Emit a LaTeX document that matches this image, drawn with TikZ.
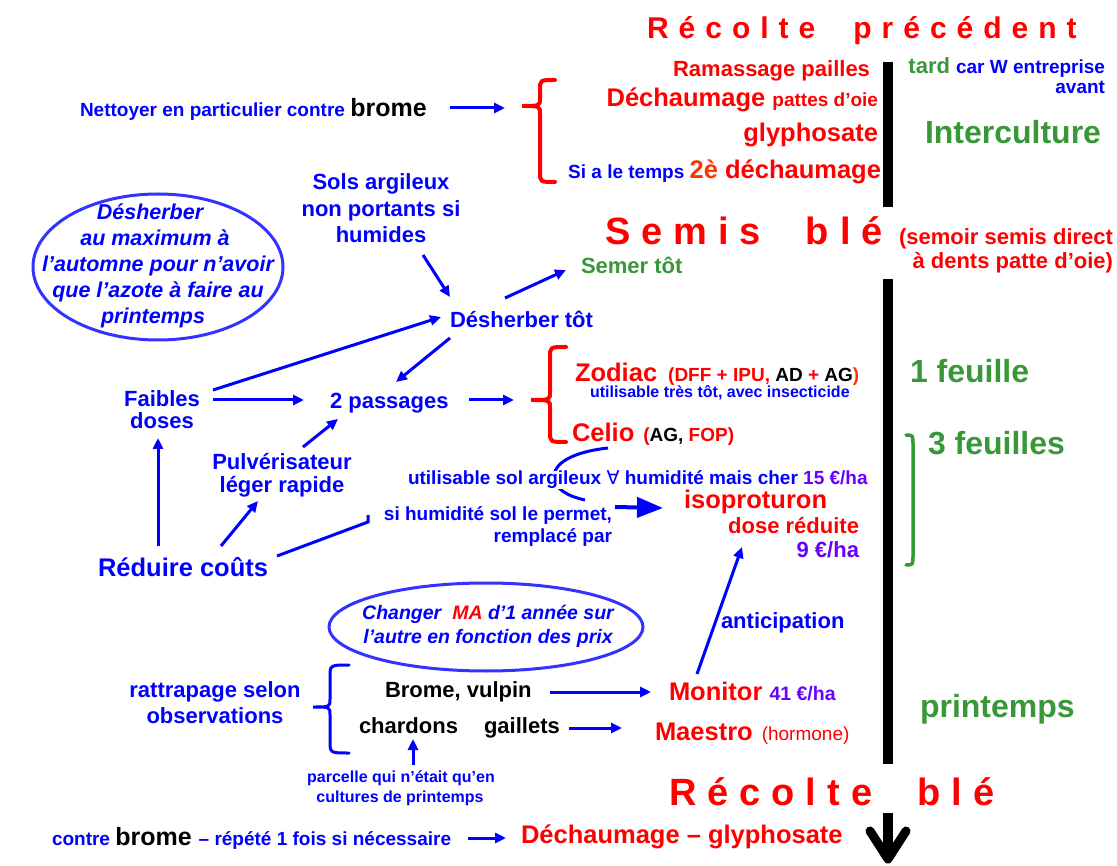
\documentclass[tikz,border=0pt]{standalone}
\usepackage{fontspec}
\setmainfont{Liberation Sans}
\newfontfamily\dejavu{DejaVu Sans}
\usetikzlibrary{arrows.meta}
\definecolor{cb}{RGB}{0,0,255}
\definecolor{cr}{RGB}{255,0,0}
\definecolor{cg}{RGB}{56,152,56}
\definecolor{cp}{RGB}{102,0,255}
\definecolor{ce}{RGB}{51,51,255}
\definecolor{co}{RGB}{255,51,0}
\newcommand\fs[1]{\fontsize{#1}{#1}\selectfont}
\def\lsp{10pt}
\def\spc#1{\spcA#1\relax}
\def\spcA#1{\ifx\relax#1\else#1\hskip\lsp\expandafter\spcA\fi}
\begin{document}
\begin{tikzpicture}[x=1pt,y=-1pt,
  every node/.style={inner sep=0pt,outer sep=0pt,font=\bfseries},
  arr/.style={draw=cb,line width=3pt,-{Triangle[length=11pt,width=10pt]}},
  bigarr/.style={draw=cb,line width=4pt,-{Triangle[length=26pt,width=20pt]}},
  plain/.style={draw=cb,line width=3pt},
  bar/.style={draw=black,line width=10pt},
  oval/.style={draw=ce,line width=3pt},
  redbrace/.style={draw=cr,line width=4pt,line cap=round},
  bluebrace/.style={draw=cb,line width=3pt,line cap=round},
  greenbrace/.style={draw=cg,line width=3.5pt,line cap=round},
  it/.style={font=\bfseries\itshape}]
\useasboundingbox (0,0) rectangle (1117,866);

% ---------- timeline bars ----------
\draw[bar] (888,62) -- (888,207);
\draw[bar] (888,279) -- (888,764);
\draw[bar] (888,813) -- (888,858);
\draw[draw=black,line width=9pt,line cap=round,line join=round] (870,831) -- (888,859) -- (906,831);

% ---------- headings ----------
\node[anchor=base west,text=cr] (rprec) at (647,39) {\fs{30}\def\lsp{10pt}\spc{Récolte}\hskip 28pt\spc{précédent}};
\node[anchor=base west,text=cr] (semis) at (605,245) {\fs{38}\def\lsp{11pt}\spc{Semis}\hskip 34pt\spc{blé}};
\node[anchor=base west,text=cr] (rble) at (669,805) {\fs{38}\def\lsp{11pt}\spc{Récolte}\hskip 34pt\spc{blé}};

% ---------- top block ----------
\node[anchor=base west] (nett) at (80,117) {\fs{19}\textcolor{cb}{Nettoyer en particulier contre} \textcolor{black}{\fs{25}brome}};
\node[anchor=base east,text=cr] (ram) at (870,77) {\fs{22}Ramassage pailles};
\node[anchor=base east,text=cr] (dech) at (878,107) {\fs{25.5}Déchaumage \fs{19}pattes d’oie};
\node[anchor=base east,text=cr] (glyph) at (878,142) {\fs{25.5}glyphosate};
\node[anchor=base east] (dech2) at (881,179) {\fs{19}\textcolor{cb}{Si a le temps} \fs{25.5}\textcolor{co}{2è} \textcolor{cr}{déchaumage}};
\node[anchor=base east] (tard) at (1105,74) {\fs{22}\textcolor{cg}{tard} \fs{19}\textcolor{cb}{car W entreprise}};
\node[anchor=base east,text=cb] (avant) at (1105,94) {\fs{19}avant};
\node[anchor=base west,text=cg] (inter) at (925,144) {\fs{32}Interculture};

\draw[redbrace] (555,80) .. controls (540,80) .. (540,90) -- (540,98) .. controls (540,106) .. (522,106) .. controls (540,106) .. (540,114) -- (540,172) .. controls (540,182) .. (555,182);
\coordinate (b1tip) at (505,108);
\coordinate (nettE) at (450,108);
\draw[arr] (nettE) -- (b1tip);

% ---------- semis ----------
\node[anchor=base east,text=cr] (semoir1) at (1113,245) {\fs{22}(semoir semis direct};
\node[anchor=base east,text=cr] (semoir2) at (1113,269) {\fs{22}à dents patte d’oie)};
\node[anchor=base west,text=cg] (semer) at (581,274) {\fs{22}Semer tôt};

% ---------- ellipse 1 ----------
\draw[oval] (158,267) ellipse [x radius=125, y radius=73];
\node[anchor=base,text=cb,it] (e1a) at (150,220) {\fs{21.5}Désherber};
\node[anchor=base,text=cb,it] (e1b) at (155,246) {\fs{21.5}au maximum à};
\node[anchor=base,text=cb,it] (e1c) at (158,272) {\fs{21.5}l’automne pour n’avoir};
\node[anchor=base,text=cb,it] (e1d) at (158,298) {\fs{21.5}que l’azote à faire au};
\node[anchor=base,text=cb,it] (e1e) at (153,324) {\fs{21.5}printemps};

% ---------- centre left ----------
\node[anchor=base,text=cb] (sols1) at (381,190) {\fs{22}Sols argileux};
\node[anchor=base,text=cb] (sols2) at (381,217) {\fs{22}non portants si};
\node[anchor=base,text=cb] (sols3) at (381,243) {\fs{22}humides};
\node[anchor=base west,text=cb] (desh) at (450,328) {\fs{22}Désherber tôt};
\node[anchor=base,text=cb] (faib1) at (162,407) {\fs{22}Faibles};
\node[anchor=base,text=cb] (faib2) at (162,429) {\fs{22}doses};
\node[anchor=base west,text=cb] (pass) at (330,409) {\fs{22}2 passages};
\node[anchor=base,text=cb] (pulv1) at (282,470) {\fs{22}Pulvérisateur};
\node[anchor=base,text=cb] (pulv2) at (282,493) {\fs{22}léger rapide};
\node[anchor=base west,text=cb] (red) at (98,576) {\fs{25.5}Réduire coûts};

\coordinate (solsS) at (423,255);
\coordinate (deshN) at (450,297);
\coordinate (deshNE) at (505,298);
\coordinate (semerW) at (566,270);
\coordinate (faibNE) at (213,390);
\coordinate (deshW) at (441,317);
\coordinate (deshSW) at (450,338);
\coordinate (passN) at (396,382);
\coordinate (faibE) at (213,400);
\coordinate (passW) at (304,400);
\coordinate (passE) at (469,400);
\coordinate (b2tip) at (514,400);
\coordinate (pulvNE) at (303,447);
\coordinate (passSW) at (338,419);
\coordinate (redN) at (158,546);
\coordinate (faibS) at (158,438);
\coordinate (redNE) at (221,546);
\coordinate (pulvS) at (258,501);
\coordinate (redE) at (277,556);
\coordinate (humW) at (368,522);
\coordinate (humT) at (368,515);

\draw[arr] (solsS) -- (deshN);
\draw[arr] (deshNE) -- (semerW);
\draw[arr] (faibNE) -- (deshW);
\draw[arr] (deshSW) -- (passN);
\draw[arr] (faibE) -- (passW);
\draw[arr] (passE) -- (b2tip);
\draw[arr] (pulvNE) -- (passSW);
\draw[arr] (redN) -- (faibS);
\draw[arr] (redNE) -- (pulvS);
\draw[plain] (redE) -- (humW) -- (humT);

% ---------- herbicides ----------
\draw[redbrace] (566,347) .. controls (550,347) .. (550,357) -- (550,392) .. controls (550,400) .. (531,400) .. controls (550,400) .. (550,408) -- (550,432) .. controls (550,442) .. (566,442);
\node[anchor=base west] (zod) at (575,382) {\fs{25.5}\textcolor{cr}{Zodiac}\hspace{11pt}\fs{19}\textcolor{cr}{(DFF + IPU,} \textcolor{black}{AD} \textcolor{cr}{+} \textcolor{black}{AG}\textcolor{co}{)}};
\node[anchor=base west,text=cb] (zodu) at (590,398) {\fs{16}utilisable très tôt, avec insecticide};
\node[anchor=base west] (celio) at (572,442) {\fs{25.5}\textcolor{cr}{Celio}\hspace{9pt}\fs{19}\textcolor{cr}{(}\textcolor{black}{AG,} \textcolor{cr}{FOP)}};
\node[anchor=base west,text=cg] (f1) at (910,383) {\fs{32}1 feuille};
\node[anchor=base west,text=cg] (f3) at (928,455) {\fs{32}3 feuilles};
\draw[greenbrace] (906,435) .. controls (913,435) .. (913,445) -- (913,555) .. controls (913,565) .. (906,565);

\coordinate (celioS) at (608,448);
\coordinate (curveE) at (585,500);
\draw[plain] (celioS) .. controls (580,451) and (555,460) .. (554,476) .. controls (553,489) and (570,497) .. (curveE);
\node[anchor=base west,fill=white] (util) at (408,485) {\fs{19}\textcolor{cb}{utilisable sol argileux {\dejavu\mdseries ∀} humidité mais cher} \textcolor{cp}{15 €/ha}};
\node[anchor=base east,text=cb] (hum1) at (612,520) {\fs{19}si humidité sol le permet,};
\node[anchor=base east,text=cb] (hum2) at (612,542) {\fs{19}remplacé par};
\node[anchor=base west,text=cr] (iso) at (684,508) {\fs{25.5}isoproturon};
\node[anchor=base east,text=cr] (dose) at (859,533) {\fs{22}dose réduite};
\node[anchor=base east,text=cp] (neuf) at (859,557) {\fs{22}9 €/ha};
\coordinate (humE) at (615,507);
\coordinate (isoW) at (663,508);
\draw[bigarr] (humE) -- (isoW);

% ---------- ellipse 2 ----------
\draw[oval] (486,627) ellipse [x radius=157, y radius=44];
\node[anchor=base,it] (e2a) at (488,619) {\fs{19.5}\textcolor{cb}{Changer}\hspace{11pt}\textcolor{cr}{MA} \textcolor{cb}{d’1 année sur}};
\node[anchor=base,it,text=cb] (e2b) at (488,643) {\fs{19.5}l’autre en fonction des prix};

% ---------- spring ----------
\node[anchor=base west,text=cb] (antic) at (721,628) {\fs{22}anticipation};
\node[anchor=base,text=cb] (ratt1) at (215,697) {\fs{22}rattrapage selon};
\node[anchor=base,text=cb] (ratt2) at (215,723) {\fs{22}observations};
\draw[bluebrace] (349,665) .. controls (330,665) .. (330,677) -- (330,699) .. controls (330,707) .. (313,707) .. controls (330,707) .. (330,715) -- (330,741) .. controls (330,753) .. (349,753);
\node[anchor=base west] (brv) at (385,697) {\fs{22}Brome, vulpin};
\node[anchor=base west] (chard) at (359,733) {\fs{22}chardons};
\node[anchor=base west] (gail) at (484,733) {\fs{22}gaillets};
\node[anchor=base west] (moni) at (669,700) {\fs{25.5}\textcolor{cr}{Monitor} \fs{19.5}\textcolor{cp}{41 €/ha}};
\node[anchor=base west] (maes) at (655,740) {\fs{25.5}\textcolor{cr}{Maestro}\hspace{9pt}\fs{19}\mdseries\textcolor{cr}{(hormone)}};
\node[anchor=base west,text=cg] (print) at (920,717) {\fs{32}printemps};
\node[anchor=base,text=cb] (parc1) at (401,782) {\fs{16}parcelle qui n’était qu’en};
\node[anchor=base,text=cb] (parc2) at (400,802) {\fs{16}cultures de printemps};

\coordinate (moniN) at (697,674);
\coordinate (isoS) at (742,547);
\coordinate (brvE) at (550,692);
\coordinate (moniW) at (651,692);
\coordinate (gailE) at (569,728);
\coordinate (maesW) at (622,728);
\coordinate (parcN) at (413,765);
\coordinate (chardS) at (413,739);
\draw[arr] (moniN) -- (isoS);
\draw[arr] (brvE) -- (moniW);
\draw[arr] (gailE) -- (maesW);
\draw[arr] (parcN) -- (chardS);

% ---------- bottom ----------
\node[anchor=base west] (contre) at (52,845) {\fs{19}\textcolor{cb}{contre} \fs{25}\textcolor{black}{brome} \fs{19}\textcolor{cb}{– répété 1 fois si nécessaire}};
\node[anchor=base west,text=cr] (dg) at (521,843) {\fs{25.5}Déchaumage – glyphosate};
\coordinate (contreE) at (468,838);
\coordinate (dgW) at (506,838);
\draw[arr] (contreE) -- (dgW);
\end{tikzpicture}
\end{document}
